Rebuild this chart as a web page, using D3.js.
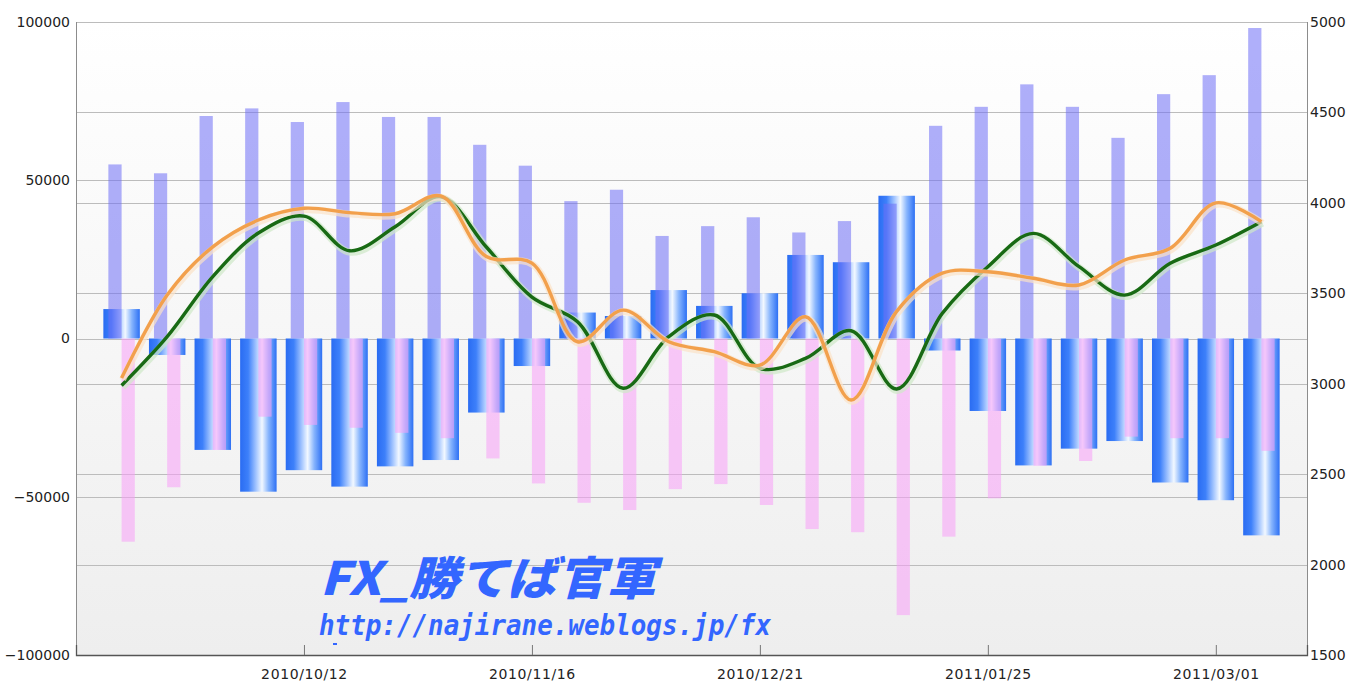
<!DOCTYPE html>
<html><head><meta charset="utf-8">
<script src="https://cdn.jsdelivr.net/npm/d3@7"></script>
<style>body{margin:0;background:#fff;} svg{display:block;}</style>
</head><body><svg id="chart" width="1347" height="681"></svg>
<script>
// ---------- data ----------
const weeks = ["2010/09/14","2010/09/21","2010/09/28","2010/10/05","2010/10/12","2010/10/19","2010/10/26",
  "2010/11/02","2010/11/09","2010/11/16","2010/11/23","2010/11/30","2010/12/07","2010/12/14","2010/12/21",
  "2010/12/28","2011/01/04","2011/01/11","2011/01/18","2011/01/25","2011/02/01","2011/02/08","2011/02/15",
  "2011/02/22","2011/03/01","2011/03/08"];
const longs  = [55000,52200,70300,72700,68400,74700,70000,70000,61200,54600,43400,47000,32400,35500,38300,
  33500,37100,42600,67200,73200,80300,73200,63400,77200,83200,98100];
const shorts = [-64200,-47000,-35200,-24700,-27300,-28200,-29800,-31500,-37900,-45800,-51900,-54200,-47600,
  -46000,-52600,-60200,-61200,-87400,-62600,-50500,-40200,-38700,-31000,-31500,-31500,-35500];
const net    = [9300,-5200,-35200,-48400,-41600,-46800,-40400,-38400,-23400,-8700,8200,7100,15300,10300,
  14300,26400,24100,45100,-3800,-22900,-40100,-34800,-32400,-45500,-51100,-62200];
const greenLine  = [2990,3260,3592,3833,3927,3735,3868,4034,3756,3479,3343,2975,3260,3380,3085,3140,3293,
  2971,3389,3647,3831,3647,3490,3666,3767,3896];
const orangeLine = [3031,3490,3757,3905,3970,3946,3940,4038,3703,3667,3232,3407,3232,3177,3103,3370,2910,
  3400,3611,3619,3583,3546,3684,3749,4000,3896];
const xDomain = ["2010/09/07","2011/03/15"];
const dateTicks = ["2010/10/12","2010/11/16","2010/12/21","2011/01/25","2011/03/01"];
const leftTicks = [-100000,-50000,0,50000,100000];
const rightTicks = [1500,2000,2500,3000,3500,4000,4500,5000];
const watermark = ["FX_勝てば官軍","http://najirane.weblogs.jp/fx"];

// ---------- layout ----------
const L = 76, R = 1307, T = 22, B = 655;
const parse = d3.utcParse("%Y/%m/%d");
const fmt = d3.utcFormat("%Y/%m/%d");
const x = d3.scaleUtc().domain(xDomain.map(parse)).range([L, R]);
const yL = d3.scaleLinear().domain([-100000, 100000]).range([B, T]);
const yR = d3.scaleLinear().domain([1500, 5000]).range([B, T]);
const wk = x(d3.utcDay.offset(parse(weeks[0]), 7)) - x(parse(weeks[0]));

const svg = d3.select("#chart");
const defs = svg.append("defs");
const bg = defs.append("linearGradient").attr("id","bg").attr("x1",0).attr("y1",0).attr("x2",0).attr("y2",1);
bg.append("stop").attr("offset","0%").attr("stop-color","#ffffff");
bg.append("stop").attr("offset","100%").attr("stop-color","#eeeeee");
const bl = defs.append("linearGradient").attr("id","blue").attr("x1",0).attr("y1",0).attr("x2",1).attr("y2",0);
[["0%","#2a6cf2"],["22%","#3d80fa"],["45%","#a9c9ff"],["60%","#f2f8ff"],["78%","#86b4fd"],["100%","#2d70f4"]]
  .forEach(s => bl.append("stop").attr("offset", s[0]).attr("stop-color", s[1]));

svg.append("rect").attr("x", L).attr("y", T).attr("width", R - L).attr("height", B - T).attr("fill", "url(#bg)");

// gridlines
const grid = svg.append("g");
grid.selectAll("line.gl").data(leftTicks).join("line")
  .attr("x1", L).attr("x2", R).attr("y1", d => Math.round(yL(d)) + 0.5).attr("y2", d => Math.round(yL(d)) + 0.5)
  .attr("stroke", "#bcbcbc");
grid.selectAll("line.gr").data(rightTicks).join("line")
  .attr("x1", L).attr("x2", R).attr("y1", d => Math.round(yR(d)) + 0.5).attr("y2", d => Math.round(yR(d)) + 0.5)
  .attr("stroke", "#bcbcbc");

const rows = weeks.map((w, i) => ({d: parse(w), lo: longs[i], sh: shorts[i], net: net[i], g: greenLine[i], o: orangeLine[i]}));

// net bars (gradient)
svg.append("g").selectAll("rect").data(rows).join("rect")
  .attr("x", d => x(d.d) - 0.4 * wk).attr("width", 0.8 * wk)
  .attr("y", d => yL(Math.max(0, d.net))).attr("height", d => Math.abs(yL(d.net) - yL(0)))
  .attr("fill", "url(#blue)");
// long bars
svg.append("g").selectAll("rect").data(rows).join("rect")
  .attr("x", d => x(d.d) - 0.29 * wk).attr("width", 0.29 * wk)
  .attr("y", d => yL(d.lo)).attr("height", d => yL(0) - yL(d.lo))
  .attr("fill", "#6e6ef5").attr("fill-opacity", 0.55);
// short bars
svg.append("g").selectAll("rect").data(rows).join("rect")
  .attr("x", d => x(d.d)).attr("width", 0.29 * wk)
  .attr("y", yL(0)).attr("height", d => yL(d.sh) - yL(0))
  .attr("fill", "#f7a0f7").attr("fill-opacity", 0.56);

// lines
const line = key => d3.line().x(d => x(d.d)).y(d => yR(d[key])).curve(d3.curveCatmullRom.alpha(0.5));
[["g", "#186a14", "#cfe8c8"], ["o", "#f2a04c", "#fbe2c8"]].forEach(([k, c, h]) => {
  svg.append("path").datum(rows).attr("d", line(k)).attr("fill", "none")
    .attr("stroke", h).attr("stroke-width", 7).attr("stroke-opacity", 0.7).attr("transform", "translate(1,1.5)");
  svg.append("path").datum(rows).attr("d", line(k)).attr("fill", "none")
    .attr("stroke", c).attr("stroke-width", 3.4).attr("stroke-linejoin", "round");
});

// axes
const font = "DejaVu Sans, sans-serif";
svg.append("line").attr("x1", L + 0.5).attr("x2", L + 0.5).attr("y1", T).attr("y2", B).attr("stroke", "#8c8c8c");
svg.append("line").attr("x1", R + 0.5).attr("x2", R + 0.5).attr("y1", T).attr("y2", B).attr("stroke", "#8c8c8c");

const ax = svg.append("g").attr("transform", `translate(0,${B})`)
  .call(d3.axisBottom(x).tickValues(dateTicks.map(parse)).tickFormat(fmt).tickSize(-10).tickPadding(14));
ax.select(".domain").attr("stroke", "#555").attr("stroke-width", 1.3);
ax.selectAll(".tick line").attr("stroke", "#777");
ax.selectAll("text").attr("font-family", font).attr("font-size", 14).attr("fill", "#222").attr("letter-spacing", "0.6px");

const ay = svg.append("g").attr("transform", `translate(${L},0)`)
  .call(d3.axisLeft(yL).tickValues(leftTicks).tickFormat(d3.format("d")).tickSize(0).tickPadding(6));
ay.select(".domain").remove();
ay.selectAll("text").attr("font-family", font).attr("font-size", 14).attr("fill", "#222");

const ar = svg.append("g").attr("transform", `translate(${R},0)`)
  .call(d3.axisRight(yR).tickValues(rightTicks).tickFormat(d3.format("d")).tickSize(0).tickPadding(3));
ar.select(".domain").remove();
ar.selectAll("text").attr("font-family", font).attr("font-size", 14).attr("fill", "#222");

// watermark
const wm = svg.append("g").attr("fill", "#3366ff");
wm.append("text").attr("x", 320).attr("y", 595).text(watermark[0])
  .attr("font-family", "Noto Sans CJK JP, sans-serif").attr("font-weight", 900).attr("font-style", "italic")
  .attr("font-size", 46).attr("textLength", 336).attr("lengthAdjust", "spacingAndGlyphs");
wm.append("text").attr("x", 319).attr("y", 635).text(watermark[1])
  .attr("font-family", "DejaVu Sans Mono, monospace").attr("font-weight", "bold").attr("font-style", "italic")
  .attr("font-size", 28).attr("textLength", 452).attr("lengthAdjust", "spacingAndGlyphs");
wm.append("rect").attr("x", 333).attr("y", 643).attr("width", 4).attr("height", 2);
</script></body></html>
